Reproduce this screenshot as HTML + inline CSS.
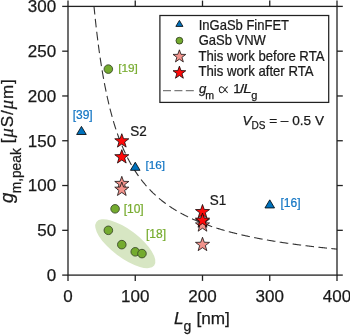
<!DOCTYPE html>
<html><head><meta charset="utf-8"><title>gm,peak vs Lg</title>
<style>html,body{margin:0;padding:0;background:#fff;}svg{display:block;will-change:transform;}text{font-family:"Liberation Sans",sans-serif;stroke:#1a1a1a;stroke-width:0.25px;}</style>
</head><body>
<svg width="350" height="335" viewBox="0 0 350 335">
<rect x="0" y="0" width="350" height="335" fill="#ffffff"/>
<ellipse cx="125.30" cy="243.70" rx="36.2" ry="13.9" fill="#d7e6c3" transform="rotate(37 125.30 243.70)"/>
<polyline points="94.00,6.40 94.68,13.17 95.35,19.61 96.02,25.75 96.69,31.59 97.37,37.17 98.04,42.49 98.71,47.59 99.38,52.46 100.06,57.13 100.73,61.61 101.40,65.91 102.07,70.04 102.75,74.01 103.42,77.83 104.09,81.50 104.76,85.04 105.44,88.46 106.11,91.75 106.78,94.93 107.45,98.00 108.13,100.97 108.80,103.84 109.47,106.62 110.14,109.31 110.82,111.91 111.49,114.43 112.16,116.88 112.83,119.25 113.51,121.56 114.18,123.79 114.85,125.97 115.52,128.08 116.20,130.13 116.87,132.12 117.54,134.06 118.21,135.95 118.89,137.79 119.56,139.58 120.23,141.33 120.90,143.03 121.58,144.68 122.25,146.30 122.92,147.88 123.59,149.42 124.27,150.92 124.94,152.39 125.61,153.82 126.28,155.22 126.96,156.59 127.63,157.92 128.30,159.23 128.97,160.51 129.65,161.76 130.32,162.98 130.99,164.18 131.66,165.35 132.34,166.50 133.01,167.62 133.68,168.72 134.35,169.80 135.03,170.86 135.70,171.89 136.37,172.91 137.04,173.90 137.72,174.88 138.39,175.84 139.06,176.77 139.73,177.70 140.41,178.60 141.08,179.49 141.75,180.36 142.42,181.22 143.10,182.06 143.77,182.88 144.44,183.69 145.11,184.49 145.79,185.28 146.46,186.05 147.13,186.80 147.80,187.55 148.48,188.28 149.15,189.00 149.82,189.70 150.49,190.40 151.17,191.09 151.84,191.76 152.51,192.42 153.18,193.08 153.86,193.72 154.53,194.35 155.20,194.97 155.87,195.59 156.55,196.19 157.22,196.79 157.89,197.37 158.56,197.95 159.24,198.52 159.91,199.08 160.58,199.63 161.25,200.17 161.93,200.71 162.60,201.24 163.27,201.76 163.94,202.27 164.62,202.78 165.29,203.28 165.96,203.77 166.63,204.26 167.31,204.74 167.98,205.21 168.65,205.68 169.32,206.14 170.00,206.60 170.67,207.04 171.34,207.49 172.01,207.93 172.69,208.36 173.36,208.78 174.03,209.20 174.70,209.62 175.38,210.03 176.05,210.43 176.72,210.83 177.39,211.23 178.07,211.62 178.74,212.00 179.41,212.39 180.08,212.76 180.76,213.13 181.43,213.50 182.10,213.86 182.77,214.22 183.45,214.58 184.12,214.93 184.79,215.27 185.46,215.62 186.14,215.96 186.81,216.29 187.48,216.62 188.15,216.95 188.83,217.27 189.50,217.59 190.17,217.91 190.84,218.22 191.52,218.53 192.19,218.84 192.86,219.14 193.53,219.44 194.21,219.74 194.88,220.03 195.55,220.32 196.22,220.61 196.90,220.89 197.57,221.17 198.24,221.45 198.91,221.73 199.59,222.00 200.26,222.27 200.93,222.54 201.60,222.80 202.28,223.06 202.95,223.32 203.62,223.58 204.29,223.83 204.97,224.09 205.64,224.34 206.31,224.58 206.98,224.83 207.66,225.07 208.33,225.31 209.00,225.55 209.67,225.78 210.35,226.01 211.02,226.25 211.69,226.47 212.36,226.70 213.04,226.93 213.71,227.15 214.38,227.37 215.05,227.59 215.73,227.80 216.40,228.02 217.07,228.23 217.74,228.44 218.42,228.65 219.09,228.85 219.76,229.06 220.43,229.26 221.11,229.46 221.78,229.66 222.45,229.86 223.12,230.06 223.80,230.25 224.47,230.44 225.14,230.64 225.81,230.83 226.49,231.01 227.16,231.20 227.83,231.38 228.50,231.57 229.18,231.75 229.85,231.93 230.52,232.11 231.19,232.29 231.87,232.46 232.54,232.64 233.21,232.81 233.88,232.98 234.56,233.15 235.23,233.32 235.90,233.49 236.57,233.65 237.25,233.82 237.92,233.98 238.59,234.14 239.26,234.30 239.94,234.46 240.61,234.62 241.28,234.78 241.95,234.93 242.63,235.09 243.30,235.24 243.97,235.39 244.64,235.55 245.32,235.70 245.99,235.84 246.66,235.99 247.33,236.14 248.01,236.28 248.68,236.43 249.35,236.57 250.02,236.71 250.70,236.86 251.37,237.00 252.04,237.14 252.71,237.27 253.39,237.41 254.06,237.55 254.73,237.68 255.40,237.82 256.08,237.95 256.75,238.08 257.42,238.21 258.09,238.34 258.77,238.47 259.44,238.60 260.11,238.73 260.78,238.86 261.46,238.98 262.13,239.11 262.80,239.23 263.47,239.36 264.15,239.48 264.82,239.60 265.49,239.72 266.16,239.84 266.84,239.96 267.51,240.08 268.18,240.20 268.85,240.31 269.53,240.43 270.20,240.54 270.87,240.66 271.54,240.77 272.22,240.89 272.89,241.00 273.56,241.11 274.23,241.22 274.91,241.33 275.58,241.44 276.25,241.55 276.92,241.66 277.60,241.76 278.27,241.87 278.94,241.98 279.61,242.08 280.29,242.19 280.96,242.29 281.63,242.39 282.30,242.50 282.98,242.60 283.65,242.70 284.32,242.80 284.99,242.90 285.67,243.00 286.34,243.10 287.01,243.20 287.68,243.29 288.36,243.39 289.03,243.49 289.70,243.58 290.37,243.68 291.05,243.77 291.72,243.87 292.39,243.96 293.06,244.05 293.74,244.15 294.41,244.24 295.08,244.33 295.75,244.42 296.43,244.51 297.10,244.60 297.77,244.69 298.44,244.78 299.12,244.87 299.79,244.96 300.46,245.04 301.13,245.13 301.81,245.22 302.48,245.30 303.15,245.39 303.82,245.47 304.50,245.56 305.17,245.64 305.84,245.72 306.51,245.81 307.19,245.89 307.86,245.97 308.53,246.05 309.20,246.13 309.88,246.21 310.55,246.29 311.22,246.37 311.89,246.45 312.57,246.53 313.24,246.61 313.91,246.69 314.58,246.76 315.26,246.84 315.93,246.92 316.60,246.99 317.27,247.07 317.95,247.15 318.62,247.22 319.29,247.30 319.96,247.37 320.64,247.44 321.31,247.52 321.98,247.59 322.65,247.66 323.33,247.73 324.00,247.81 324.67,247.88 325.34,247.95 326.02,248.02 326.69,248.09 327.36,248.16 328.03,248.23 328.71,248.30 329.38,248.37 330.05,248.44 330.72,248.51 331.40,248.57 332.07,248.64 332.74,248.71 333.41,248.77 334.09,248.84 334.76,248.91 335.43,248.97 336.10,249.04 336.78,249.10 337.00,249.13" fill="none" stroke="#333333" stroke-width="1.1" stroke-dasharray="8.6 4.4" stroke-dashoffset="0.48"/>
<rect x="68.00" y="6.40" width="269.00" height="268.70" fill="none" stroke="#222222" stroke-width="1.3"/>
<line x1="68.00" y1="275.10" x2="68.00" y2="280.90" stroke="#222222" stroke-width="1.3"/>
<line x1="68.00" y1="6.40" x2="68.00" y2="0.60" stroke="#222222" stroke-width="1.3"/>
<text x="68.00" y="302.00" font-size="17" text-anchor="middle" fill="#1a1a1a">0</text>
<line x1="135.25" y1="275.10" x2="135.25" y2="280.90" stroke="#222222" stroke-width="1.3"/>
<line x1="135.25" y1="6.40" x2="135.25" y2="0.60" stroke="#222222" stroke-width="1.3"/>
<text x="135.25" y="302.00" font-size="17" text-anchor="middle" fill="#1a1a1a">100</text>
<line x1="202.50" y1="275.10" x2="202.50" y2="280.90" stroke="#222222" stroke-width="1.3"/>
<line x1="202.50" y1="6.40" x2="202.50" y2="0.60" stroke="#222222" stroke-width="1.3"/>
<text x="202.50" y="302.00" font-size="17" text-anchor="middle" fill="#1a1a1a">200</text>
<line x1="269.75" y1="275.10" x2="269.75" y2="280.90" stroke="#222222" stroke-width="1.3"/>
<line x1="269.75" y1="6.40" x2="269.75" y2="0.60" stroke="#222222" stroke-width="1.3"/>
<text x="269.75" y="302.00" font-size="17" text-anchor="middle" fill="#1a1a1a">300</text>
<line x1="337.00" y1="275.10" x2="337.00" y2="280.90" stroke="#222222" stroke-width="1.3"/>
<line x1="337.00" y1="6.40" x2="337.00" y2="0.60" stroke="#222222" stroke-width="1.3"/>
<text x="337.00" y="302.00" font-size="17" text-anchor="middle" fill="#1a1a1a">400</text>
<line x1="68.00" y1="275.10" x2="62.20" y2="275.10" stroke="#222222" stroke-width="1.3"/>
<line x1="337.00" y1="275.10" x2="342.80" y2="275.10" stroke="#222222" stroke-width="1.3"/>
<text x="56.20" y="280.90" font-size="17" text-anchor="end" fill="#1a1a1a">0</text>
<line x1="68.00" y1="230.32" x2="62.20" y2="230.32" stroke="#222222" stroke-width="1.3"/>
<line x1="337.00" y1="230.32" x2="342.80" y2="230.32" stroke="#222222" stroke-width="1.3"/>
<text x="56.20" y="236.12" font-size="17" text-anchor="end" fill="#1a1a1a">50</text>
<line x1="68.00" y1="185.53" x2="62.20" y2="185.53" stroke="#222222" stroke-width="1.3"/>
<line x1="337.00" y1="185.53" x2="342.80" y2="185.53" stroke="#222222" stroke-width="1.3"/>
<text x="56.20" y="191.33" font-size="17" text-anchor="end" fill="#1a1a1a">100</text>
<line x1="68.00" y1="140.75" x2="62.20" y2="140.75" stroke="#222222" stroke-width="1.3"/>
<line x1="337.00" y1="140.75" x2="342.80" y2="140.75" stroke="#222222" stroke-width="1.3"/>
<text x="56.20" y="146.55" font-size="17" text-anchor="end" fill="#1a1a1a">150</text>
<line x1="68.00" y1="95.97" x2="62.20" y2="95.97" stroke="#222222" stroke-width="1.3"/>
<line x1="337.00" y1="95.97" x2="342.80" y2="95.97" stroke="#222222" stroke-width="1.3"/>
<text x="56.20" y="101.77" font-size="17" text-anchor="end" fill="#1a1a1a">200</text>
<line x1="68.00" y1="51.18" x2="62.20" y2="51.18" stroke="#222222" stroke-width="1.3"/>
<line x1="337.00" y1="51.18" x2="342.80" y2="51.18" stroke="#222222" stroke-width="1.3"/>
<text x="56.20" y="56.98" font-size="17" text-anchor="end" fill="#1a1a1a">250</text>
<line x1="68.00" y1="6.40" x2="62.20" y2="6.40" stroke="#222222" stroke-width="1.3"/>
<line x1="337.00" y1="6.40" x2="342.80" y2="6.40" stroke="#222222" stroke-width="1.3"/>
<text x="56.20" y="12.20" font-size="17" text-anchor="end" fill="#1a1a1a">300</text>
<polygon points="81.45,126.39 76.65,134.49 86.25,134.49" fill="#0072bd" stroke="#05080c" stroke-width="0.85" stroke-linejoin="miter"/>
<polygon points="135.25,162.22 130.45,170.32 140.05,170.32" fill="#0072bd" stroke="#05080c" stroke-width="0.85" stroke-linejoin="miter"/>
<polygon points="269.75,199.84 264.95,207.94 274.55,207.94" fill="#0072bd" stroke="#05080c" stroke-width="0.85" stroke-linejoin="miter"/>
<circle cx="108.35" cy="69.10" r="4.3" fill="#74ab2f" stroke="#384428" stroke-width="0.85"/>
<circle cx="115.08" cy="208.82" r="4.3" fill="#74ab2f" stroke="#384428" stroke-width="0.85"/>
<circle cx="108.35" cy="230.32" r="4.3" fill="#74ab2f" stroke="#384428" stroke-width="0.85"/>
<circle cx="121.80" cy="244.65" r="4.3" fill="#74ab2f" stroke="#384428" stroke-width="0.85"/>
<circle cx="135.25" cy="251.81" r="4.3" fill="#74ab2f" stroke="#384428" stroke-width="0.85"/>
<circle cx="141.97" cy="253.60" r="4.3" fill="#74ab2f" stroke="#384428" stroke-width="0.85"/>
<polygon points="202.50,237.25 204.26,242.22 209.54,242.36 205.35,245.57 206.85,250.63 202.50,247.65 198.15,250.63 199.65,245.57 195.46,242.36 200.74,242.22" fill="#f2938c" stroke="#151010" stroke-width="0.8" stroke-linejoin="miter"/>
<polygon points="202.50,213.96 204.26,218.93 209.54,219.07 205.35,222.29 206.85,227.35 202.50,224.36 198.15,227.35 199.65,222.29 195.46,219.07 200.74,218.93" fill="#f2938c" stroke="#151010" stroke-width="0.8" stroke-linejoin="miter"/>
<polygon points="202.50,217.81 204.26,222.78 209.54,222.92 205.35,226.14 206.85,231.20 202.50,228.21 198.15,231.20 199.65,226.14 195.46,222.92 200.74,222.78" fill="#f2938c" stroke="#151010" stroke-width="0.8" stroke-linejoin="miter"/>
<polygon points="121.80,176.34 123.56,181.31 128.84,181.46 124.65,184.67 126.15,189.73 121.80,186.74 117.45,189.73 118.95,184.67 114.76,181.46 120.04,181.31" fill="#f2938c" stroke="#151010" stroke-width="0.8" stroke-linejoin="miter"/>
<polygon points="121.80,182.07 123.56,187.05 128.84,187.19 124.65,190.40 126.15,195.46 121.80,192.47 117.45,195.46 118.95,190.40 114.76,187.19 120.04,187.05" fill="#f2938c" stroke="#151010" stroke-width="0.8" stroke-linejoin="miter"/>
<polygon points="202.50,204.47 204.26,209.44 209.54,209.58 205.35,212.79 206.85,217.85 202.50,214.87 198.15,217.85 199.65,212.79 195.46,209.58 200.74,209.44" fill="#ff0a0a" stroke="#150505" stroke-width="0.8" stroke-linejoin="miter"/>
<polygon points="202.50,213.06 204.26,218.04 209.54,218.18 205.35,221.39 206.85,226.45 202.50,223.46 198.15,226.45 199.65,221.39 195.46,218.18 200.74,218.04" fill="#ff0a0a" stroke="#150505" stroke-width="0.8" stroke-linejoin="miter"/>
<polygon points="121.80,133.71 123.56,138.68 128.84,138.82 124.65,142.04 126.15,147.09 121.80,144.11 117.45,147.09 118.95,142.04 114.76,138.82 120.04,138.68" fill="#ff0a0a" stroke="#150505" stroke-width="0.8" stroke-linejoin="miter"/>
<polygon points="121.80,149.65 123.56,154.62 128.84,154.76 124.65,157.98 126.15,163.04 121.80,160.05 117.45,163.04 118.95,157.98 114.76,154.76 120.04,154.62" fill="#ff0a0a" stroke="#150505" stroke-width="0.8" stroke-linejoin="miter"/>
<text x="72.70" y="119.30" font-size="12" fill="#1476c4" text-anchor="start" style="stroke:#1476c4;stroke-width:0.22px" >[39]</text>
<text x="145.40" y="169.40" font-size="11.8" fill="#1476c4" text-anchor="start" style="stroke:#1476c4;stroke-width:0.22px" >[16]</text>
<text x="280.50" y="207.30" font-size="12" fill="#1476c4" text-anchor="start" style="stroke:#1476c4;stroke-width:0.22px" >[16]</text>
<text x="118.20" y="72.20" font-size="11.8" fill="#78ac30" text-anchor="start" style="stroke:#78ac30;stroke-width:0.22px" >[19]</text>
<text x="123.70" y="213.00" font-size="12" fill="#78ac30" text-anchor="start" style="stroke:#78ac30;stroke-width:0.22px" >[10]</text>
<text x="146.00" y="237.80" font-size="12" fill="#78ac30" text-anchor="start" style="stroke:#78ac30;stroke-width:0.22px" >[18]</text>
<text transform="translate(130.3,135.9) scale(0.93,1)" font-size="14.5" fill="#1a1a1a">S2</text>
<text transform="translate(209.8,205.0) scale(0.93,1)" font-size="14.5" fill="#1a1a1a">S1</text>
<text x="242.4" y="124.8" font-size="13.6" fill="#1a1a1a"><tspan font-style="italic">V</tspan><tspan font-size="10" dy="3.9">DS</tspan><tspan dy="-3.9"> = – 0.5 V</tspan></text>
<rect x="159.9" y="15.5" width="168.8" height="86.9" fill="#ffffff" stroke="#222222" stroke-width="1.25"/>
<polygon points="179.40,20.40 175.85,26.40 182.95,26.40" fill="#0072bd" stroke="#05080c" stroke-width="0.85" stroke-linejoin="miter"/>
<circle cx="179.40" cy="40.70" r="3.4" fill="#74ab2f" stroke="#2f3d20" stroke-width="0.85"/>
<polygon points="179.40,49.80 180.99,54.32 185.77,54.43 181.97,57.33 183.34,61.92 179.40,59.20 175.46,61.92 176.83,57.33 173.03,54.43 177.81,54.32" fill="#f2938c" stroke="#151010" stroke-width="0.8" stroke-linejoin="miter"/>
<polygon points="179.40,66.10 180.99,70.62 185.77,70.73 181.97,73.63 183.34,78.22 179.40,75.50 175.46,78.22 176.83,73.63 173.03,70.73 177.81,70.62" fill="#ff0a0a" stroke="#150505" stroke-width="0.8" stroke-linejoin="miter"/>
<line x1="163" y1="90.6" x2="194.6" y2="90.6" stroke="#7c7c7c" stroke-width="1.3" stroke-dasharray="8 3.4"/>
<text transform="translate(198.7,29.6) scale(0.93,1)" font-size="14" fill="#1a1a1a">InGaSb FinFET</text>
<text transform="translate(198.7,45.1) scale(0.93,1)" font-size="14" fill="#1a1a1a">GaSb VNW</text>
<text transform="translate(198.5,60.9) scale(0.94,1)" font-size="14" fill="#1a1a1a">This work before RTA</text>
<text transform="translate(198.5,76.4) scale(0.94,1)" font-size="14" fill="#1a1a1a">This work after RTA</text>
<g fill="#1a1a1a">
<text x="199.0" y="93.1" font-size="13.2" font-style="italic">g</text>
<text x="205.2" y="99.0" font-size="10.6">m</text>
<path transform="translate(219.3,86.6) scale(0.95,1)" d="M9,0.2 C6.6,0.2 5.6,6.2 2.5,6.2 C0.9,6.2 0,4.8 0,3.2 C0,1.6 0.9,0.2 2.5,0.2 C5.6,0.2 6.6,6.2 9,6.2" fill="none" stroke="#1a1a1a" stroke-width="1.05"/>
<text x="233.3" y="93.1" font-size="13.2">1</text>
<text transform="translate(239.9,93.1) scale(1.15,1)" font-size="13.2">/</text>
<text transform="translate(243.2,93.1) scale(1.15,1)" font-size="13.2" font-style="italic">L</text>
<text x="251.3" y="99.0" font-size="11">g</text>
</g>
<text x="174.0" y="324.0" font-size="17.2" fill="#1a1a1a" font-style="italic">L</text>
<text x="183.6" y="331.4" font-size="14" fill="#1a1a1a">g</text>
<text x="196.4" y="324.0" font-size="17.2" fill="#1a1a1a">[nm]</text>
<g transform="translate(13.0,0) rotate(-90)" fill="#1a1a1a">
<text x="-203" y="0.2" font-size="18.5" font-style="italic">g</text>
<text x="-193.3" y="8.4" font-size="13.75">m,peak</text>
<text x="-143.2" y="0" font-size="17" letter-spacing="0.95">[<tspan font-family="Liberation Serif" font-style="italic" font-size="18.5">μ</tspan>S/<tspan font-family="Liberation Serif" font-style="italic" font-size="18.5">μ</tspan>m]</text>
</g>
</svg></body></html>
